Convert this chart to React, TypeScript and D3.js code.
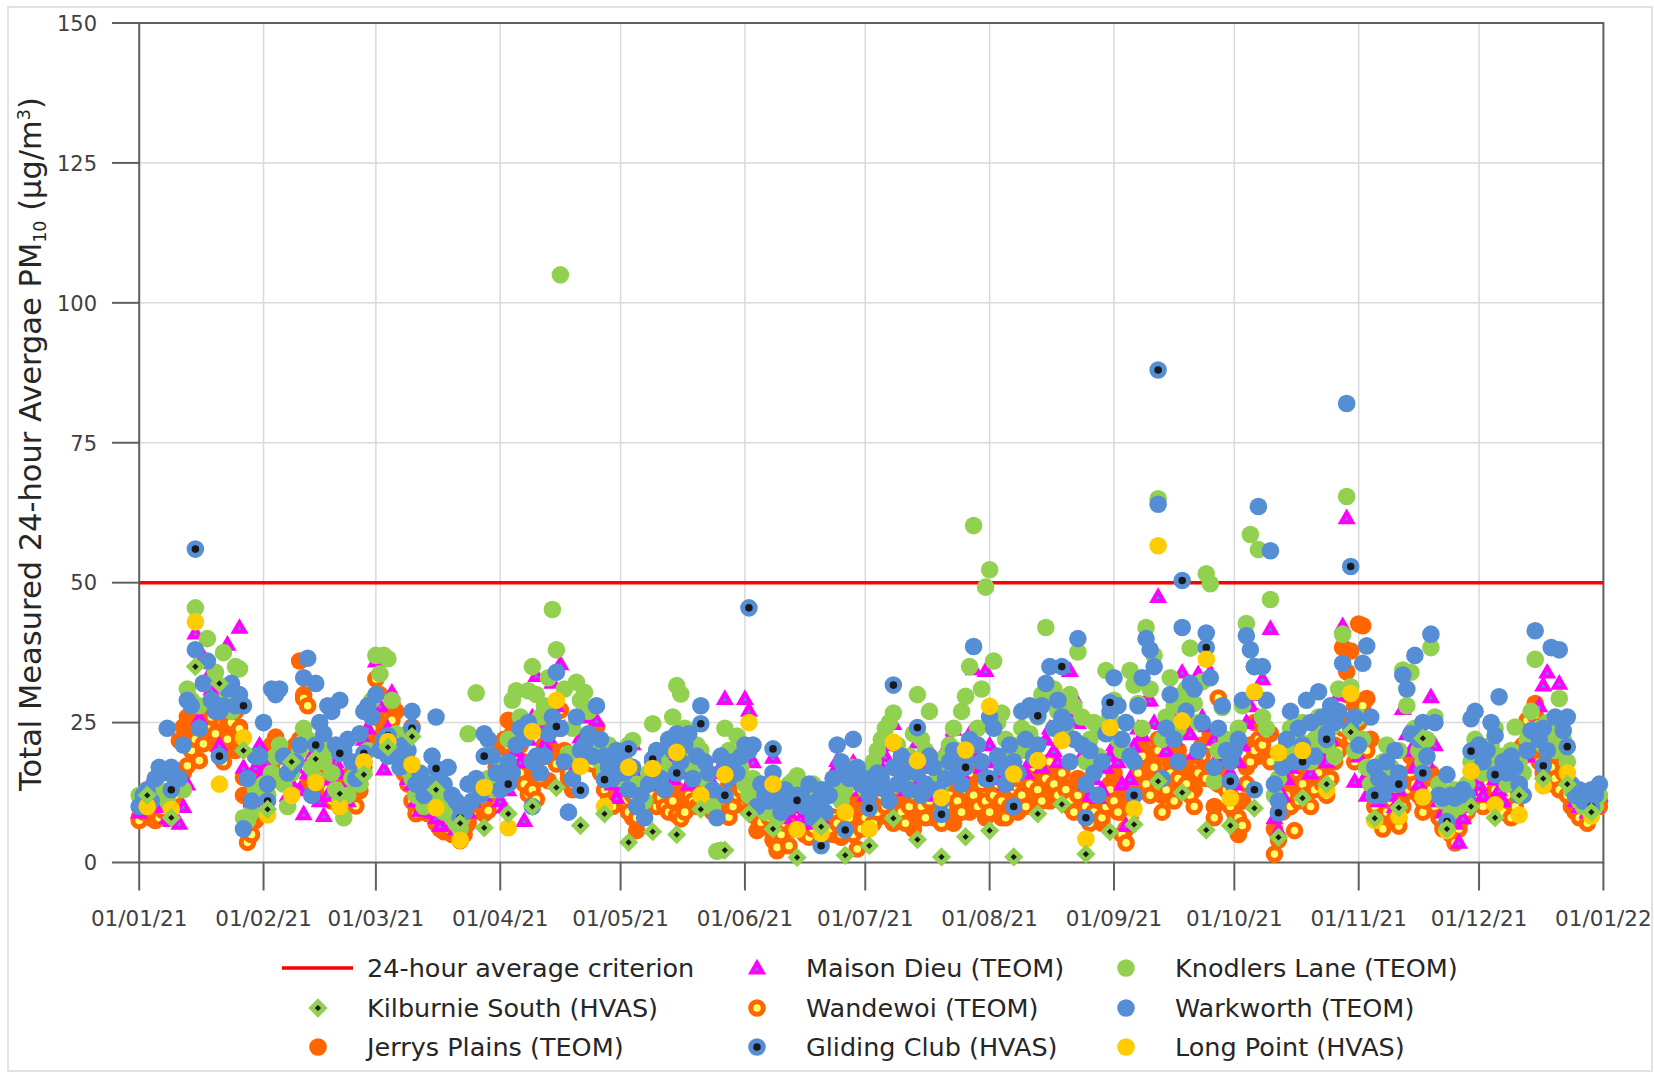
import { useEffect, useRef } from "react";
import * as d3 from "d3";

// Daily TEOM averages, 1 Jan 2021 to 31 Dec 2021 (µg/m³)
const warkworth = [
  10, 12, 13, 11, 15, 17, 16, 24, 17, 15, 15, 21, 29, 28, 38, 24, 32, 36, 29, 27, 27, 28, 31, 32, 28, 30, 6, 15, 11, 19, 19,
  25, 14, 31, 30, 31, 19, 16, 17, 18, 21, 33, 36.5, 12, 32, 25, 23, 28, 27, 21, 29, 20, 22, 18, 15, 23, 27, 28, 26,
  30, 20, 22, 19, 21, 19, 17, 21, 20, 27, 14, 16, 12, 14, 19, 26, 16, 14, 17, 12, 11, 10, 9, 14, 11, 15, 12, 23, 22, 19, 16,
  13, 14, 18, 16, 21, 24, 22, 25, 18, 19, 16, 19, 23, 26, 34, 24, 18, 9, 15, 26, 20, 21, 23, 19, 28, 22, 19, 17, 15, 20,
  18, 16, 13, 17, 10, 12, 8, 14, 18, 20, 15, 13, 22, 20, 23, 18, 21, 23, 15, 19, 28, 18, 16, 13, 8, 19, 17, 15, 18, 16, 19,
  21, 20, 21, 10, 14, 12, 11, 16, 12, 9, 13, 10, 11, 12, 12, 10, 14, 8, 11, 13, 9, 12, 15, 21, 18, 16, 15, 22, 17, 14,
  15, 12, 14, 16, 15, 13, 11, 17, 14, 19, 16, 13, 18, 16, 12, 14, 19, 17, 13, 11, 15, 18, 20, 16, 14, 19, 22, 38.6, 21, 18, 15,
  26, 24, 19, 17, 14, 21, 18, 16, 27, 22, 28, 19, 21, 28, 32, 35, 24, 29, 26, 25, 18, 22, 40, 21, 14, 20, 16, 12, 18, 23, 27,
  33, 28, 22, 25, 19, 18, 28, 33, 40, 38, 35, 64, 15, 24, 30, 22, 18, 42, 27, 32, 31, 20, 25, 41, 33, 17, 24, 28, 20, 18,
  20, 22, 29, 40.5, 38, 35, 63.6, 35, 29, 55.7, 14, 11, 17, 22, 27, 18, 24, 21, 29, 25, 19, 30.5, 26, 23, 28, 25, 27, 35.6, 82, 24, 26,
  21, 35.6, 38.7, 26, 17, 15, 12, 18, 14, 20, 16, 33.5, 31, 23, 37, 22, 25, 19, 40.8, 25, 12, 11.5, 15.7, 12, 11.5, 12, 13, 12, 25.7, 27,
  21, 18, 20, 25, 22.7, 29.6, 18, 16, 19, 17, 14, 12, 20, 23.6, 41.4, 22, 24, 20, 38.4, 26, 38, 23.6, 26, 14, 12, 13, 11, 12, 13, 12, 14,
];

const knodlersLane = [
  12, 11, 13, 12, 14, 13, 12, 11, 13, 15, 14, 13, 31, 29, 45.5, 28, 32, 40, 29, 34, 28, 37.5, 30, 27, 35, 34.6, 8, 7.5, 9, 13, 12,
  14, 12, 16, 19, 21, 14, 10, 16, 18, 20, 24, 22, 17, 15, 19, 18, 20, 16, 13, 11, 8, 12, 15, 17, 14, 16, 20, 29,
  37, 33.7, 37, 36.4, 29, 23, 21, 19, 18, 15, 12, 14, 10, 11, 13, 16, 12, 9, 10, 8, 7, 6, 9, 23, 14, 30.3, 13.4, 14, 15, 13, 14,
  16, 17, 22, 29, 30.7, 26, 24, 30.7, 35, 30, 26, 28, 33, 45.2, 38, 105, 31, 19.4, 24, 32.2, 29, 30.4, 27, 22, 20, 18, 16, 21, 19, 17,
  15, 18, 21, 21.8, 14, 12, 11, 16, 24.8, 20, 18, 17, 22, 26, 31.6, 30.1, 24, 19, 17, 21, 20, 15, 13, 10, 2, 2.2, 24, 20, 18, 22.6, 17,
  14, 12, 15, 10, 13, 9, 10, 9, 8, 11, 12, 14, 14.6, 15.5, 13, 12, 11, 14, 12, 10, 13, 12, 14, 12, 11, 13, 15, 17, 16, 14,
  13, 16, 18, 20, 22, 24, 25, 26.7, 21, 18, 15, 19, 23, 30, 22, 20, 27, 18, 16, 14, 19, 21, 24, 20, 27, 29.7, 35, 60.2, 24, 31, 49.2,
  52.3, 36, 25, 26.7, 22, 19, 17, 21, 24, 20, 23, 27, 26, 30, 42, 29, 31, 27, 25, 24, 30, 28, 37.6, 26, 18, 22, 25, 19, 23.4, 34.3, 26,
  29, 22, 20, 25, 34.3, 31.7, 28.4, 24, 42, 31, 37, 65, 22, 26, 33, 28, 24, 30, 31, 38.3, 28.4, 25, 32.3, 51.6, 49.8, 14.5, 20, 27.7, 22, 19,
  21, 24, 28, 42.7, 58.6, 35, 55.9, 26, 24, 47, 12, 15, 18, 21, 24, 19, 22, 25, 20, 18, 22, 26, 23, 21, 24, 19, 31, 40.8, 65.4, 31.4, 20,
  26, 22, 17, 14, 12, 15, 18, 21, 17, 14, 20, 34.4, 28, 34, 24, 20, 18, 22, 38.4, 26, 14, 11, 12, 9, 13, 10, 11, 14, 18, 22,
  20, 16, 18, 21, 24, 19, 17, 14, 20, 24.2, 18, 16, 22, 27, 36.3, 24, 21, 25, 23, 20, 29.3, 22, 18, 13, 12, 11, 10, 12, 11, 10, 12,
];

const maisonDieu = [
  9, 11, 12, 14.6, 13, 12, 10, 8, 7.5, 8, 7, 10, 14, 30, 41, 25.7, 36.7, 33, 31, 28, 21, 27, 39, 32, 30, 42, 17, 9, 11, 17, 21,
  16, 18, 16.7, 19, 20, 15, 12, 14, 17, 13, 8.7, 16, 19, 15, 11, 8.4, 12, 15, 18, 16, 13, 11, 14, 17, 19, 22, 24, 27,
  36, 28, 16.7, 24, 30.4, 22, 19, 17, 15, 14, 11, 9.3, 10, 12, 9, 8, 6.6, 8, 9, 7, 6, 8, 10, 9, 11, 12, 13, 12, 14, 15.8, 13,
  11, 9.9, 13, 17, 20, 18, 7.5, 22, 26, 33.4, 24, 21, 22.4, 32.2, 28, 35.5, 24, 18, 16, 20, 22.4, 19, 26, 21, 25.4, 19, 17, 15, 14, 11.6,
  13, 15, 18, 21.2, 16, 13, 12, 15, 19.1, 17, 14, 16, 18, 15, 17, 19, 16, 14, 18, 20.6, 17, 15, 13, 14, 16, 19, 29.3, 18, 15, 17, 20,
  29.3, 27.2, 18, 14, 12, 10, 9, 18.8, 12, 10, 8, 9, 11, 10, 8, 7, 9, 11, 10, 8, 12, 14, 16, 18.2, 15, 13, 14, 17.9, 15, 13,
  12, 14, 13, 15, 17, 19, 21, 24.8, 18, 16, 13, 15, 18, 21.5, 17, 14, 12, 15, 17, 19, 20, 22, 23.8, 18, 16, 20, 23, 34.6, 19, 17, 34.3,
  21, 18, 15, 17, 14, 16, 19, 17, 20, 16, 18, 21, 19, 17, 22, 24, 20, 18, 23, 27, 34.3, 29.6, 25, 19, 14, 12, 15, 11.6, 13, 17, 19,
  21, 18, 14, 6.6, 15, 20.8, 24, 22.8, 29, 29, 25, 47.5, 24.8, 20, 24, 22, 27, 34, 28, 23, 19.5, 33.7, 26, 24.4, 34, 22, 19, 21.5, 18, 16,
  14, 18, 21, 25, 28, 30, 26, 32.8, 24, 41.8, 8, 5.7, 12, 15, 17, 20, 18, 22, 19, 16, 21, 24, 20, 18, 22, 26, 29.9, 42.3, 61.6, 25, 14.5,
  19, 14.5, 12, 16, 14, 11, 13, 15, 12, 10, 13, 27.5, 23, 20, 17, 14, 12, 18, 29.6, 21, 11, 9, 8, 10, 7, 3.6, 8, 10, 13, 16,
  14, 12, 16, 18, 15, 13, 11, 14, 17, 20, 16, 13, 19, 22, 24, 28, 31.7, 34, 25, 21, 32, 20, 17, 14, 11, 10, 12, 9, 11, 10, 12,
];

const jerrysPlains = [
  8, 9, 10, 8, 11, 12, 10, 9, 11, 13, 21.8, 24.2, 26, 22, 28, 25, 23, 27, 24, 21, 19, 22, 24.8, 22, 20, 24.2, 12, 8, 10.4, 7.5, 14,
  16, 19, 21, 22.4, 18, 20, 19.4, 17, 21, 36, 30, 14, 16, 19, 17, 15, 13, 16, 15, 14, 12, 14, 16, 13, 12.8, 18, 21, 23,
  25, 27.5, 26, 24, 28.4, 27, 22, 20, 23, 24.2, 9.9, 12, 11, 10.4, 9, 11, 8, 6.3, 7, 5, 6, 3.9, 5, 7, 9, 11, 10, 8.7, 12, 14, 17,
  20, 22, 25.4, 23, 25, 21, 18, 15, 17, 16.4, 19, 21, 14.6, 20, 26.9, 24, 18, 15, 13, 17, 20, 22, 19, 21, 24.2, 18, 15, 13, 12, 14,
  15, 13, 10, 8, 5.7, 8, 9.9, 11, 13, 12, 11, 10, 12, 14, 13, 11, 10, 12.2, 14, 13, 11, 12, 10, 9, 11, 9.3, 12, 14, 13, 12.8, 11,
  10, 12, 9, 5.7, 7, 6.3, 8, 4, 2.1, 6, 9, 11, 8, 6, 7, 5, 9, 12, 10, 6.3, 8, 7, 5, 6, 4.5, 7, 9, 11, 9.3, 8,
  7, 9, 11, 8, 10, 12, 9, 7, 11, 13, 10, 8, 6, 9, 11, 13, 10, 8, 12, 14, 11, 9, 7, 10, 13, 11, 9, 12, 14, 10, 8,
  11, 13, 10, 8, 12, 14, 11, 9, 13, 15, 12, 10, 14, 16, 13, 11, 15, 17, 14, 12, 10, 13, 15, 11, 8, 10, 12, 9, 7, 11, 14,
  16, 13, 9, 6, 11, 14, 18, 21, 17, 15, 19, 22, 12, 15, 18, 14, 20, 24, 17, 15, 13, 19, 21, 17, 23, 10, 14, 18, 15, 12,
  9, 5, 11, 17, 21, 25, 19, 22, 19, 23, 6, 9, 12, 15, 13, 11, 14, 17, 15, 13, 16, 19, 17, 14, 18, 21, 26, 38.4, 34.1, 37.8, 28,
  42.6, 42.3, 29.3, 22, 12, 9, 7, 10, 13, 11, 8, 12, 15, 19, 17, 14, 11, 13, 16, 12, 9, 7, 8, 6, 9, 7, 11, 10, 12, 14,
  13, 11, 15, 17, 14, 12, 10, 13, 9, 11, 14, 21, 24, 22, 28.4, 20, 17, 15, 19, 16, 14, 18, 13, 11, 10, 9, 11, 8, 10, 12, 11,
];

const wandewoi = [
  7.5, 9, 10, 8, 7.5, 8, 9.3, 11, 10, 12, 14, 16, 17.3, 20, 22, 18.2, 21.2, 24, 26, 23, 20, 18, 22, 25, 27, 23.9, 15.2, 3.6, 5, 12, 17,
  14, 12, 16, 18, 20, 17, 15, 13, 18, 22, 29.3, 28, 20, 17, 15, 14, 13.1, 11, 12, 9.9, 11, 13, 12, 10.1, 14, 17, 20, 24,
  32.8, 30, 28.7, 26, 25.4, 21, 18, 16, 14, 11, 8.7, 10, 9, 8.7, 11, 7, 6, 5.5, 6, 7, 5, 4.5, 6, 8, 9, 10.4, 12, 11, 9.3, 15, 18,
  19, 20.6, 20.9, 19, 18.2, 16, 14, 12.2, 13, 11.3, 15, 19, 27.5, 24.5, 17.6, 27.2, 20, 16, 14, 18, 20, 22.4, 19, 17.6, 21, 16, 13, 11, 10, 12,
  14, 11, 9, 12, 8, 10, 11, 13, 12, 10, 11.6, 10, 9, 11, 8.5, 7.8, 9, 12, 11, 10, 10.4, 12, 11, 9, 10, 12.2, 11, 8.1, 10, 12, 13,
  11, 11.6, 10, 8, 7.2, 9, 8, 9, 2.7, 5, 7, 3, 6, 8, 7, 5, 4.5, 6, 9, 7, 5, 6, 8.1, 7, 5, 6, 8, 5, 2.4, 6,
  8, 10, 7, 9, 12, 10, 8, 11, 13, 9, 7, 10, 12, 14, 10, 8, 11, 13, 9, 7, 10, 12, 15, 11, 9, 13, 16, 12, 10, 14, 11,
  9, 12, 14, 11, 8, 10, 13, 15, 12, 10, 14, 17, 13, 11, 15, 18, 14, 12, 16, 13, 11, 9, 12, 14, 10, 7, 9, 12, 8, 10, 13,
  11, 9, 5, 3.5, 8, 12, 16, 19, 14, 12, 17, 20, 9, 13, 16, 11, 15, 18, 14, 12, 10, 16, 19, 15, 21, 8, 29.4, 17.8, 13, 10,
  7, 8, 6.6, 14, 18, 20, 22, 21, 23, 18, 1.5, 4, 9, 12, 10, 5.7, 11, 14, 12, 10, 13, 16, 14, 12, 15, 18, 20, 24, 30, 22, 18,
  25, 28, 20, 16, 10, 8, 6, 9, 11, 8, 6.5, 10, 13, 16, 14, 12, 9, 11, 13, 10, 8, 6, 7, 5, 3.5, 6, 8, 9, 11, 13,
  12, 10, 14, 16, 13, 11, 9, 12, 8, 10, 13, 19, 25.4, 22, 26.3, 18, 16, 14, 17, 15, 13, 16, 12, 10, 9, 8, 10, 7, 9, 11, 10,
];

// HVAS samples, one every sixth day starting 3 Jan 2021
const kilburnieSouth = [
  12, 8, 35, 32, 20, 9.5, 18, 18.5, 12.3, 15.7, 20.6, 22.5, 13, 7, 6.2, 8.7, 10, 13.4, 6.6, 8.7,
  3.6, 5.5, 5, 9.5, 2.2, 8.7, 6, 0.9, 6.4, 1.3, 3, 7.9, 4.1, 1, 4.6, 5.7, 1, 8.7, 10.4, 1.5,
  5.5, 6.8, 14.5, 12.5, 5.8, 6.6, 9.7, 4.5, 11.5, 14, 23.3, 7.9, 9.8, 22.2, 6, 10, 8, 12, 15, 14, 9,
];
const glidingClub = [
  11, 13, 56, 19, 28, 11, 18, 21, 19.5, 19.5, 22.7, 24, 16.8, 8, 19, 14, 10, 24.3, 12.9, 14.8,
  20.3, 18.5, 16, 24.8, 12, 45.5, 20.3, 11.1, 3, 5.8, 9.7, 31.7, 24.1, 8.6, 17, 15, 10, 26.2, 35, 8,
  28.6, 12, 88, 50.4, 38.4, 14.5, 13, 8.9, 18, 22, 52.9, 12, 14, 16, 7.3, 19.9, 15.7, 12, 17.3, 20.7, 10,
];
const longPoint = [
  10, 9.5, 43, 14, 22.3, 8.5, 12, 14.3, 10, 18, 21.6, 17.5, 9.8, 4, 13.4, 6.2, 23.4, 29, 17.2, 10,
  17, 16.8, 19.7, 12, 15.7, 25, 14, 5.9, 5.2, 9, 6, 21.5, 18.2, 11.6, 20.1, 27.9, 15.8, 18.2, 21.8, 4.2,
  24.1, 9.6, 56.6, 25.3, 36.3, 11.5, 30.5, 19.6, 20, 13, 30.2, 7.5, 8.2, 11.7, 5.7, 16.3, 10.3, 8.5, 13.7, 16, 8.3,
];

const criterion = 50;
const yTicks = [0, 25, 50, 75, 100, 125, 150];

const W = 1654;
const H = 1077;
const FONT = "'DejaVu Sans', sans-serif";
const AXIS = "#5f5f5f";
const GRID = "#d9d9d9";

const C = {
  green: "#92d050",
  blue: "#558ed5",
  orange: "#ff6600",
  magenta: "#ff00ff",
  gold: "#ffcc00",
  pale: "#ffff66",
  black: "#1a1a1a",
};

const TRI = "M0,-5.3L5.6,4.4L-5.6,4.4Z";
const DIAMOND = "M0,-6.4L6.4,0L0,6.4L-6.4,0Z";

const day0 = Date.UTC(2021, 0, 1);
const toDate = (d: number) => new Date(day0 + d * 86400000);
const dailyDays = d3.range(365);
const hvasDays = d3.range(61).map((i) => 2 + 6 * i);

// draw order follows the stacking seen in the chart
const series = [
  { name: "Jerrys Plains (TEOM)", values: jerrysPlains, days: dailyDays, kind: "dot", a: C.orange },
  { name: "Wandewoi (TEOM)", values: wandewoi, days: dailyDays, kind: "ring", a: C.orange, b: C.pale },
  { name: "Maison Dieu (TEOM)", values: maisonDieu, days: dailyDays, kind: "tri", a: C.magenta, b: C.blue },
  { name: "Knodlers Lane (TEOM)", values: knodlersLane, days: dailyDays, kind: "dot", a: C.green },
  { name: "Warkworth (TEOM)", values: warkworth, days: dailyDays, kind: "dot", a: C.blue },
  { name: "Gliding Club (HVAS)", values: glidingClub, days: hvasDays, kind: "ring", a: C.blue, b: C.black },
  { name: "Long Point (HVAS)", values: longPoint, days: hvasDays, kind: "dot", a: C.gold },
  { name: "Kilburnie South (HVAS)", values: kilburnieSouth, days: hvasDays, kind: "diamond", a: C.green, b: C.black },
];

// legend is laid out row by row as in the original
const legendOrder = [
  ["criterion", "Maison Dieu (TEOM)", "Knodlers Lane (TEOM)"],
  ["Kilburnie South (HVAS)", "Wandewoi (TEOM)", "Warkworth (TEOM)"],
  ["Jerrys Plains (TEOM)", "Gliding Club (HVAS)", "Long Point (HVAS)"],
];

function addMarks(g: any, s: any, pts: { x: number; y: number }[]) {
  if (s.kind === "dot") {
    g.selectAll(null).data(pts).join("circle")
      .attr("cx", (d: any) => d.x).attr("cy", (d: any) => d.y)
      .attr("r", 8.8).attr("fill", s.a);
  } else if (s.kind === "ring") {
    g.selectAll(null).data(pts).join("circle")
      .attr("cx", (d: any) => d.x).attr("cy", (d: any) => d.y)
      .attr("r", 6.3).attr("fill", s.b).attr("stroke", s.a).attr("stroke-width", 5);
  } else {
    g.selectAll(null).data(pts).join("path")
      .attr("d", s.kind === "tri" ? TRI : DIAMOND)
      .attr("transform", (d: any) => `translate(${d.x},${d.y})`)
      .attr("fill", s.b).attr("stroke", s.a)
      .attr("stroke-width", s.kind === "tri" ? 4 : 4.6)
      .attr("stroke-linejoin", "miter");
  }
}

export default function App() {
  const ref = useRef<SVGSVGElement>(null);

  useEffect(() => {
    const svg = d3.select(ref.current);
    svg.selectAll("*").remove();

    const x = d3.scaleUtc().domain([toDate(0), toDate(365)]).range([139.2, 1603.4]);
    const y = d3.scaleLinear().domain([0, 150]).range([862.5, 23]);
    const [x0, x1] = x.range();
    const [yb, yt] = y.range();
    const months = d3.utcMonth.range(toDate(0), toDate(366));
    const fmt = d3.utcFormat("%d/%m/%y");

    // outer frame
    svg.append("rect")
      .attr("x", 8).attr("y", 7).attr("width", 1644).attr("height", 1064)
      .attr("fill", "#fff").attr("stroke", GRID).attr("stroke-width", 1.5);

    // grid
    const grid = svg.append("g").attr("stroke", GRID).attr("stroke-width", 1.5);
    grid.selectAll(null).data(months.slice(1, -1)).join("line")
      .attr("x1", (d) => x(d)).attr("x2", (d) => x(d)).attr("y1", yt).attr("y2", yb);
    grid.selectAll(null).data(yTicks.slice(1, -1)).join("line")
      .attr("x1", x0).attr("x2", x1).attr("y1", (d) => y(d)).attr("y2", (d) => y(d));

    // axes and plot border
    const ax = svg.append("g").attr("stroke", AXIS).attr("stroke-width", 2);
    ax.append("rect").attr("x", x0).attr("y", yt).attr("width", x1 - x0).attr("height", yb - yt).attr("fill", "none");
    ax.selectAll(null).data(yTicks).join("line")
      .attr("x1", 112).attr("x2", x0).attr("y1", (d) => y(d)).attr("y2", (d) => y(d));
    ax.selectAll(null).data(months).join("line")
      .attr("x1", (d) => x(d)).attr("x2", (d) => x(d)).attr("y1", yb).attr("y2", yb + 28);

    svg.append("g").attr("font-family", FONT).attr("font-size", 21).attr("fill", "#404040")
      .attr("text-anchor", "end")
      .selectAll(null).data(yTicks).join("text")
      .attr("x", 97).attr("y", (d) => y(d) + 7.8).text((d) => d);

    svg.append("g").attr("font-family", FONT).attr("font-size", 21.5).attr("fill", "#404040")
      .attr("text-anchor", "middle")
      .selectAll(null).data(months).join("text")
      .attr("x", (d) => x(d)).attr("y", 926).text((d) => fmt(d));

    // axis title
    const title = svg.append("text")
      .attr("transform", "translate(41,444) rotate(-90)")
      .attr("text-anchor", "middle").attr("font-family", FONT).attr("font-size", 30.5)
      .attr("fill", "#262626");
    title.append("tspan").text("Total Measured 24-hour Avergae PM");
    title.append("tspan").attr("font-size", 17.5).attr("dy", 5).text("10");
    title.append("tspan").attr("dy", -5).text(" (µg/m");
    title.append("tspan").attr("font-size", 17.5).attr("dy", -11).text("3");
    title.append("tspan").attr("dy", 11).text(")");

    // 24-hour criterion
    svg.append("line")
      .attr("x1", x0).attr("x2", x1).attr("y1", y(criterion)).attr("y2", y(criterion))
      .attr("stroke", "#ff0000").attr("stroke-width", 3.5);

    // data
    const plot = svg.append("g");
    series.forEach((s) => {
      const pts = s.values.map((v, i) => ({ x: x(toDate(s.days[i])), y: y(v) }));
      addMarks(plot.append("g"), s, pts);
    });

    // legend
    const rowY = [968, 1008, 1047];
    const markX = [318, 757, 1126];
    const textX = [367, 806, 1175];
    const lg = svg.append("g");
    legendOrder.forEach((row, r) => {
      row.forEach((name, c) => {
        if (name === "criterion") {
          lg.append("line")
            .attr("x1", 282).attr("x2", 353).attr("y1", rowY[r]).attr("y2", rowY[r])
            .attr("stroke", "#ff0000").attr("stroke-width", 3.5);
          lg.append("text").attr("x", textX[c]).attr("y", rowY[r] + 9)
            .attr("font-family", FONT).attr("font-size", 25.5).attr("fill", "#262626")
            .text("24-hour average criterion");
          return;
        }
        const s = series.find((d) => d.name === name)!;
        addMarks(lg.append("g"), s, [{ x: markX[c], y: rowY[r] }]);
        lg.append("text").attr("x", textX[c]).attr("y", rowY[r] + 9)
          .attr("font-family", FONT).attr("font-size", 25.5).attr("fill", "#262626")
          .text(name);
      });
    });
  }, []);

  return (
    <svg
      ref={ref}
      width={W}
      height={H}
      style={{ position: "absolute", left: 0, top: 0, background: "#fff" }}
    />
  );
}
